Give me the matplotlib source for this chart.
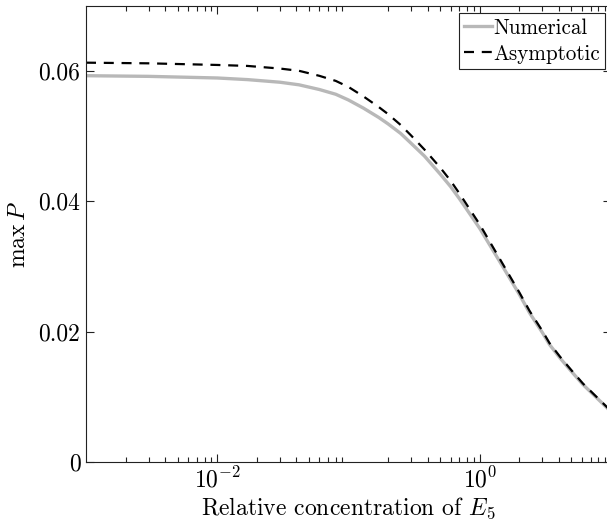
import numpy as np
import matplotlib
matplotlib.use('Agg')
from matplotlib import pyplot as plt
from matplotlib import ticker


plt.rcParams['font.family'] = 'serif'
plt.rcParams['font.serif'] = ['cmr10']
plt.rcParams['mathtext.fontset'] = 'cm'
plt.rcParams['axes.formatter.use_mathtext'] = True

# relative concentration of E5
conc = [0.001, 0.003, 0.01, 0.017, 0.03, 0.042, 0.06, 0.08, 0.1, 0.13,
        0.17, 0.2, 0.25, 0.3, 0.38, 0.5, 0.6, 0.7, 1.0, 1.5,
        2.0, 2.4, 3.0, 3.4, 4.1, 5.0, 6.1, 7.6, 9.4, 10.0]

# max P, numerical solution
numerical = [0.0593, 0.0592, 0.05895, 0.0587, 0.0583, 0.0579, 0.05718, 0.05645, 0.05557, 0.05432,
             0.05289, 0.05191, 0.05043, 0.04892, 0.04694, 0.04419, 0.04227, 0.04042, 0.03586, 0.02997,
             0.02575, 0.02287, 0.01987, 0.01803, 0.01593, 0.01389, 0.01191, 0.01005, 0.00825, 0.00766]

# max P, asymptotic approximation
asymptotic = [0.0613, 0.0612, 0.06095, 0.0608, 0.0604, 0.06005, 0.05928, 0.0585, 0.05757, 0.05612,
              0.05449, 0.05341, 0.05173, 0.05012, 0.04794, 0.04519, 0.04317, 0.04122, 0.03646, 0.03037,
              0.02605, 0.02317, 0.02012, 0.01825, 0.01613, 0.01407, 0.01206, 0.01017, 0.00835, 0.00776]

yticks = [0, 0.02, 0.04, 0.06]
ytick_labels = ['0', '0.02', '0.04', '0.06']


def main():
    fig = plt.figure(figsize=(6.07, 5.26), dpi=100)
    ax = fig.add_axes([86 / 607, 64 / 526, 525 / 607, 456 / 526])

    ax.plot(conc, numerical, color='#b8b8b8', lw=2.4, label='Numerical')
    ax.plot(conc, asymptotic, color='k', lw=1.6, dashes=(4.5, 3.5),
            label='Asymptotic')

    ax.set_xscale('log')
    ax.set_xlim(1e-3, 10)
    ax.set_ylim(0, 0.07)
    ax.xaxis.set_major_locator(ticker.FixedLocator([1e-2, 1e0]))
    ax.xaxis.set_minor_locator(ticker.LogLocator(base=10, subs=np.arange(2, 10)))
    ax.xaxis.set_minor_formatter(ticker.NullFormatter())
    ax.set_yticks(yticks)
    ax.set_yticklabels(ytick_labels)

    ax.tick_params(which='both', direction='in', top=True, right=True,
                   labelsize=17, width=0.8, color='#222222')
    ax.tick_params(which='major', length=6, pad=4)
    ax.tick_params(which='minor', length=3.5)
    for s in ax.spines.values():
        s.set_linewidth(0.8)
        s.set_color('#222222')

    ax.set_xlabel('Relative concentration of $E_5$', fontsize=17, labelpad=2)
    ax.set_ylabel(r'$\max\,P$', fontsize=17, labelpad=6)

    leg = ax.legend(loc='upper right', bbox_to_anchor=(605 / 607, 1 - 13 / 526),
                    bbox_transform=fig.transFigure, borderaxespad=0,
                    fontsize=15.2, handlelength=1.3, handletextpad=0.05,
                    borderpad=0.25, labelspacing=0.3, fancybox=False,
                    framealpha=1)
    leg.get_frame().set_edgecolor('#222222')
    leg.get_frame().set_linewidth(0.8)

    fig.savefig('out.png', dpi=100)


if __name__ == '__main__':
    main()
